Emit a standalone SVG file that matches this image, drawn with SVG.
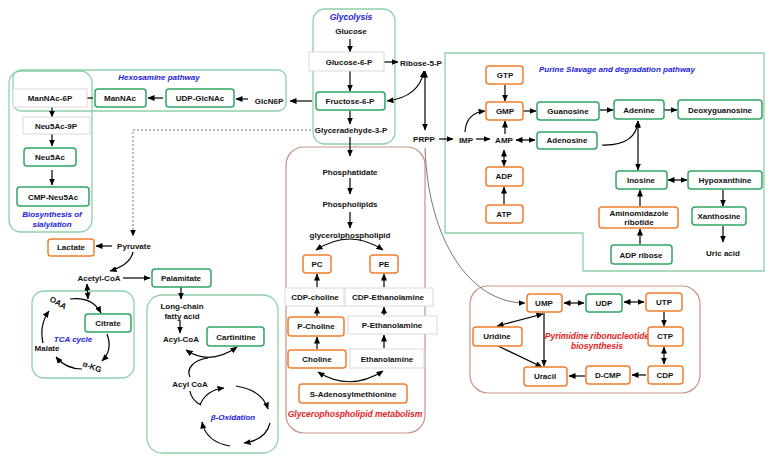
<svg xmlns="http://www.w3.org/2000/svg" width="775" height="463" viewBox="0 0 775 463">
<defs>
<marker id="ah" markerUnits="userSpaceOnUse" markerWidth="7" markerHeight="6" refX="6.5" refY="3" orient="auto-start-reverse"><path d="M0,0 L7,3 L0,6 z" fill="#000"/></marker>
<style>
.t{font-family:"Liberation Sans",Arial,sans-serif;font-weight:bold;font-size:8px;text-anchor:middle;dominant-baseline:central;fill:#111}
.ti{font-family:"Liberation Sans",Arial,sans-serif;font-weight:bold;font-style:italic;font-size:8px;text-anchor:middle;dominant-baseline:central;fill:#2222dd}
.tr{font-family:"Liberation Sans",Arial,sans-serif;font-weight:bold;font-style:italic;font-size:8.5px;text-anchor:middle;dominant-baseline:central;fill:#e51c23}
.g{fill:#fff;stroke:#2fa563;stroke-width:1.5}
.o{fill:#fff;stroke:#ef7d31;stroke-width:1.5}
.y{fill:#fff;stroke:#d9d9d9;stroke-width:1}
.cg{fill:none;stroke:#8fd0aa;stroke-width:1.3}
.cb{fill:none;stroke:#c99383;stroke-width:1.2}
.c path,.c line{fill:none;stroke:#000;stroke-width:1.2}
.e{marker-end:url(#ah)}
.b{marker-start:url(#ah);marker-end:url(#ah)}
</style>
</defs>
<rect width="775" height="463" fill="#fff"/>

<!-- containers -->
<g id="hexosamine-box"><rect class="cg" x="13" y="70" width="273" height="41" rx="8"/><text class="ti" x="159" y="77">Hexosamine pathway</text></g>
<g id="sialylation-box"><rect class="cg" x="9" y="71" width="83" height="161" rx="12"/><text class="ti" x="52" y="214">Biosynthesis of</text><text class="ti" x="52" y="224">sialylation</text></g>
<g id="glycolysis-box"><rect class="cg" x="313" y="9" width="82" height="135" rx="12"/><text class="ti" x="351" y="17" style="font-size:8.5px">Glycolysis</text></g>
<g id="purine-box"><polygon class="cg" points="445,53 764,53 764,271 583,271 583,233 445,233"/><text class="ti" x="617" y="69">Purine Slavage and degradation pathway</text></g>
<g id="glycero-box"><rect class="cb" x="286" y="147" width="139" height="286" rx="18"/><text class="tr" x="355" y="414">Glycerophospholipid metabolism</text></g>
<g id="pyrimidine-box"><rect class="cb" x="470" y="286" width="230" height="107" rx="18"/><text class="tr" x="597" y="336">Pyrimidine ribonucleotide</text><text class="tr" x="597" y="346">biosynthesis</text></g>
<g id="tca-box"><rect class="cg" x="32" y="291" width="102" height="87" rx="12"/><text class="ti" x="73" y="339">TCA cycle</text></g>
<g id="beta-box"><rect class="cg" x="147" y="295" width="131" height="158" rx="15"/><text class="ti" x="233" y="417">β-Oxidation</text></g>

<!-- connectors -->
<g id="connectors" class="c">
<line class="e" x1="350" y1="39" x2="350" y2="52"/>
<line class="e" x1="374" y1="62" x2="398" y2="62"/>
<line class="e" x1="350" y1="71" x2="350" y2="91"/>
<line class="e" x1="350" y1="111" x2="350" y2="124"/>
<path class="b" d="M424,71 Q419,97 387,101"/>
<line class="b" x1="425" y1="71" x2="425" y2="130"/>
<line class="e" x1="312" y1="101" x2="290" y2="101"/>
<line class="e" x1="248" y1="99" x2="236" y2="99"/>
<line class="e" x1="163" y1="98" x2="148" y2="98"/>
<line class="e" x1="93" y1="98" x2="78" y2="98"/>
<line class="e" x1="52" y1="107" x2="52" y2="117"/>
<line class="e" x1="52" y1="134" x2="52" y2="146"/>
<line class="e" x1="52" y1="170" x2="52" y2="185"/>
<path class="e" d="M311,130 L133,130 L133,236" style="stroke:#666;stroke-width:0.9;stroke-dasharray:2,2"/>
<line class="e" x1="112" y1="246" x2="96" y2="246"/>
<path class="e" d="M133,252 Q130,265 110,271"/>
<line class="e" x1="123" y1="278" x2="150" y2="278"/>
<line class="b" x1="87" y1="284" x2="88" y2="299"/>
<path class="e" d="M70,299 Q92,296 101,313"/>
<path class="e" d="M107,334 Q113,350 102,361"/>
<path class="e" d="M82,369 Q66,369 56,357"/>
<path class="e" d="M43,343 Q39,325 49,311"/>
<line class="e" x1="181" y1="287" x2="181" y2="299"/>
<line class="e" x1="180" y1="320" x2="180" y2="333"/>
<path class="b" d="M186,350 Q210,366 237,347"/>
<path d="M208,358 C193,360 186,369 190,377"/>
<path d="M190,391 C191,398 195,402 201,405"/>
<path class="e" d="M200,405 Q206,390 224,388"/>
<path class="e" d="M236,386 Q262,390 268,409"/>
<path class="e" d="M270,423 Q266,440 244,443"/>
<path class="e" d="M230,446 Q206,442 202,422"/>
<line class="e" x1="350" y1="137" x2="350" y2="156"/>
<line class="e" x1="350" y1="178" x2="350" y2="194"/>
<line class="e" x1="350" y1="212" x2="350" y2="228"/>
<path class="b" d="M316,250 Q350,228 383,250"/>
<line class="e" x1="317" y1="287" x2="317" y2="274"/>
<line class="e" x1="384" y1="287" x2="384" y2="274"/>
<line class="e" x1="317" y1="316" x2="317" y2="307"/>
<line class="e" x1="384" y1="315" x2="384" y2="307"/>
<line class="e" x1="317" y1="349" x2="317" y2="337"/>
<line class="e" x1="384" y1="348" x2="384" y2="335"/>
<path class="b" d="M318,372 Q350,392 383,371"/>
<line class="e" x1="505" y1="85" x2="505" y2="101"/>
<line class="e" x1="523" y1="111" x2="536" y2="111"/>
<line class="e" x1="599" y1="110" x2="613" y2="110"/>
<line class="e" x1="664" y1="110" x2="677" y2="110"/>
<line class="e" x1="439" y1="139" x2="453" y2="139"/>
<line class="e" x1="476" y1="139" x2="490" y2="139"/>
<line class="e" x1="505" y1="134" x2="505" y2="121"/>
<path class="e" d="M465,132 Q466,113 485,111"/>
<line class="b" x1="516" y1="140" x2="535" y2="140"/>
<path class="e" d="M602,145 Q636,146 638,121"/>
<line class="b" x1="638" y1="121" x2="638" y2="170"/>
<line class="b" x1="504" y1="150" x2="504" y2="166"/>
<line class="e" x1="504" y1="204" x2="504" y2="187"/>
<line class="b" x1="668" y1="180" x2="687" y2="180"/>
<line class="e" x1="723" y1="190" x2="723" y2="206"/>
<line class="e" x1="723" y1="226" x2="723" y2="242"/>
<line class="e" x1="640" y1="206" x2="640" y2="190"/>
<line class="e" x1="640" y1="244" x2="640" y2="229"/>
<path class="e" d="M425,148 C428,240 470,303 525,303" style="stroke:#555;stroke-width:0.8"/>
<line class="b" x1="564" y1="303" x2="584" y2="303"/>
<line class="b" x1="624" y1="302" x2="644" y2="302"/>
<line class="e" x1="664" y1="312" x2="664" y2="326"/>
<line class="b" x1="664" y1="347" x2="664" y2="364"/>
<line class="e" x1="646" y1="375" x2="632" y2="375"/>
<line class="e" x1="585" y1="376" x2="569" y2="376"/>
<line class="e" x1="544" y1="313" x2="544" y2="366"/>
<line class="b" x1="497" y1="326" x2="543" y2="314"/>
<line class="e" x1="498" y1="346" x2="542" y2="367"/>
</g>

<!-- nodes -->
<g id="glucose"><text class="t" x="351" y="31">Glucose</text></g>
<g id="glucose-6-p"><rect class="y" x="309" y="52" width="75" height="19"/><text class="t" x="349" y="62">Glucose-6-P</text></g>
<g id="ribose-5-p"><text class="t" x="421" y="63">Ribose-5-P</text></g>
<g id="fructose-6-p"><rect class="g" x="316" y="92" width="69" height="18" rx="3"/><text class="t" x="350" y="101">Fructose-6-P</text></g>
<g id="glyceraldehyde-3-p"><text class="t" x="351" y="130">Glyceradehyde-3-P</text></g>
<g id="prpp"><text class="t" x="424" y="139">PRPP</text></g>
<g id="glcn6p"><text class="t" x="269" y="101">GlcN6P</text></g>
<g id="udp-glcnac"><rect class="g" x="166" y="89" width="68" height="18" rx="3"/><text class="t" x="200" y="98">UDP-GlcNAc</text></g>
<g id="mannac"><rect class="g" x="95" y="89" width="51" height="18" rx="3"/><text class="t" x="120" y="98">ManNAc</text></g>
<g id="mannac-6p"><rect class="y" x="13" y="89" width="74" height="18"/><text class="t" x="50" y="98">ManNAc-6P</text></g>
<g id="neu5ac-9p"><rect class="y" x="23" y="117" width="67" height="17"/><text class="t" x="56" y="126">Neu5Ac-9P</text></g>
<g id="neu5ac"><rect class="g" x="24" y="148" width="52" height="18" rx="3"/><text class="t" x="50" y="157">Neu5Ac</text></g>
<g id="cmp-neu5ac"><rect class="g" x="17" y="187" width="72" height="19" rx="3"/><text class="t" x="53" y="197">CMP-Neu5Ac</text></g>
<g id="pyruvate"><text class="t" x="134" y="246">Pyruvate</text></g>
<g id="lactate"><rect class="o" x="48" y="239" width="46" height="17" rx="3"/><text class="t" x="71" y="247">Lactate</text></g>
<g id="acetyl-coa"><text class="t" x="99" y="278">Acetyl-CoA</text></g>
<g id="palamitate"><rect class="g" x="152" y="269" width="59" height="18" rx="3"/><text class="t" x="181" y="278">Palamitate</text></g>
<g id="oaa"><text class="t" x="58" y="303" transform="rotate(30 58 303)">OAA</text></g>
<g id="citrate"><rect class="g" x="85" y="314" width="46" height="18" rx="3"/><text class="t" x="108" y="323">Citrate</text></g>
<g id="malate"><text class="t" x="47" y="348">Malate</text></g>
<g id="akg"><text class="t" x="92" y="367" transform="rotate(20 92 367)">α-KG</text></g>
<g id="long-chain-fatty-acid"><text class="t" x="182" y="306">Long-chain</text><text class="t" x="182" y="316">fatty acid</text></g>
<g id="acyl-coa"><text class="t" x="181" y="339">Acyl-CoA</text></g>
<g id="cartinitine"><rect class="g" x="207" y="327" width="57" height="19" rx="3"/><text class="t" x="236" y="337">Cartinitine</text></g>
<g id="acyl-coa-2"><text class="t" x="190" y="384">Acyl CoA</text></g>
<g id="phosphatidate"><text class="t" x="350" y="172">Phosphatidate</text></g>
<g id="phospholipids"><text class="t" x="350" y="204">Phospholipids</text></g>
<g id="glycerolphospholipid"><text class="t" x="350" y="235">glycerolphospholipid</text></g>
<g id="pc"><rect class="o" x="303" y="255" width="28" height="18" rx="3"/><text class="t" x="317" y="264">PC</text></g>
<g id="pe"><rect class="o" x="370" y="255" width="28" height="18" rx="3"/><text class="t" x="384" y="264">PE</text></g>
<g id="cdp-choline"><rect class="y" x="285" y="288" width="59" height="18"/><text class="t" x="315" y="297">CDP-choline</text></g>
<g id="cdp-ethanolamine"><rect class="y" x="345" y="288" width="88" height="18"/><text class="t" x="388" y="297">CDP-Ethanolamine</text></g>
<g id="p-choline"><rect class="o" x="288" y="317" width="56" height="19" rx="3"/><text class="t" x="316" y="326">P-Choline</text></g>
<g id="p-ethanolamine"><rect class="y" x="348" y="316" width="89" height="18"/><text class="t" x="392" y="325">P-Ethanolamine</text></g>
<g id="choline"><rect class="o" x="288" y="350" width="58" height="18" rx="3"/><text class="t" x="317" y="359">Choline</text></g>
<g id="ethanolamine"><rect class="y" x="350" y="349" width="74" height="19"/><text class="t" x="387" y="359">Ethanolamine</text></g>
<g id="s-adenosylmethionine"><rect class="o" x="299" y="384" width="108" height="19" rx="3"/><text class="t" x="353" y="394">S-Adenosylmethionine</text></g>
<g id="gtp"><rect class="o" x="486" y="66" width="37" height="18" rx="3"/><text class="t" x="505" y="75">GTP</text></g>
<g id="gmp"><rect class="o" x="486" y="102" width="37" height="18" rx="3"/><text class="t" x="505" y="111">GMP</text></g>
<g id="guanosine"><rect class="g" x="537" y="102" width="62" height="18" rx="3"/><text class="t" x="568" y="111">Guanosine</text></g>
<g id="adenine"><rect class="g" x="614" y="100" width="50" height="19" rx="3"/><text class="t" x="639" y="110">Adenine</text></g>
<g id="deoxyguanosine"><rect class="g" x="678" y="100" width="84" height="19" rx="3"/><text class="t" x="720" y="110">Deoxyguanosine</text></g>
<g id="imp"><text class="t" x="466" y="140">IMP</text></g>
<g id="amp"><text class="t" x="504" y="140">AMP</text></g>
<g id="adenosine"><rect class="g" x="537" y="132" width="60" height="17" rx="3"/><text class="t" x="567" y="140">Adenosine</text></g>
<g id="adp"><rect class="o" x="486" y="167" width="37" height="19" rx="3"/><text class="t" x="504" y="176">ADP</text></g>
<g id="atp"><rect class="o" x="486" y="205" width="37" height="18" rx="3"/><text class="t" x="504" y="214">ATP</text></g>
<g id="inosine"><rect class="g" x="616" y="171" width="51" height="18" rx="3"/><text class="t" x="641" y="180">Inosine</text></g>
<g id="hypoxanthine"><rect class="g" x="688" y="171" width="74" height="18" rx="3"/><text class="t" x="725" y="180">Hypoxanthine</text></g>
<g id="xanthosine"><rect class="g" x="692" y="207" width="54" height="18" rx="3"/><text class="t" x="719" y="216">Xanthosine</text></g>
<g id="uric-acid"><text class="t" x="723" y="253">Uric acid</text></g>
<g id="aminomidazole-ribotide"><rect class="o" x="599" y="207" width="79" height="21" rx="3"/><text class="t" x="639" y="213">Aminomidazole</text><text class="t" x="639" y="222">ribotide</text></g>
<g id="adp-ribose"><rect class="g" x="611" y="245" width="61" height="19" rx="3"/><text class="t" x="641" y="255">ADP ribose</text></g>
<g id="ump"><rect class="o" x="527" y="294" width="35" height="18" rx="3"/><text class="t" x="544" y="303">UMP</text></g>
<g id="udp"><rect class="g" x="586" y="294" width="36" height="18" rx="3"/><text class="t" x="604" y="303">UDP</text></g>
<g id="utp"><rect class="o" x="646" y="293" width="36" height="18" rx="3"/><text class="t" x="664" y="302">UTP</text></g>
<g id="ctp"><rect class="o" x="648" y="327" width="35" height="19" rx="3"/><text class="t" x="665" y="336">CTP</text></g>
<g id="cdp"><rect class="o" x="648" y="366" width="35" height="18" rx="3"/><text class="t" x="665" y="375">CDP</text></g>
<g id="d-cmp"><rect class="o" x="586" y="366" width="44" height="18" rx="3"/><text class="t" x="608" y="375">D-CMP</text></g>
<g id="uracil"><rect class="o" x="524" y="367" width="43" height="19" rx="3"/><text class="t" x="545" y="376">Uracil</text></g>
<g id="uridine"><rect class="o" x="473" y="327" width="49" height="19" rx="3"/><text class="t" x="497" y="336">Uridine</text></g>
</svg>
